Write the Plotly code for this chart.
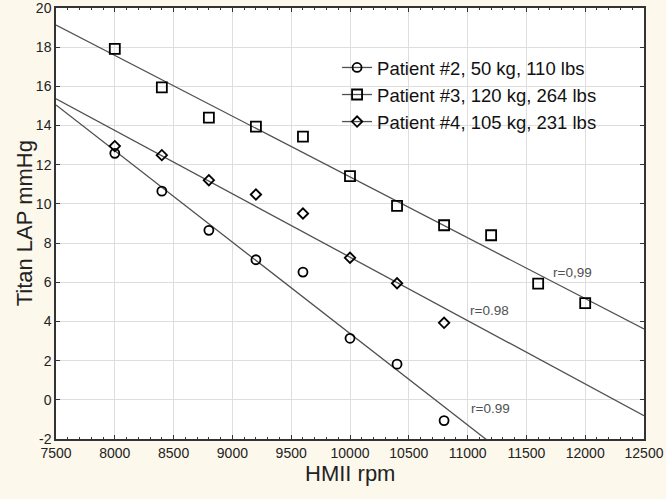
import numpy as np
import plotly.graph_objects as go

# HMII pump speed (rpm) for each patient
rpm_p2 = [8000, 8400, 8800, 9200, 9600, 10000, 10400, 10800]
lap_p2 = [12.58, 10.65, 8.65, 7.15, 6.52, 3.14, 1.82, -1.06]

rpm_p3 = [8000, 8400, 8800, 9200, 9600, 10000, 10400, 10800, 11200, 11600, 12000]
lap_p3 = [17.91, 15.95, 14.4, 13.94, 13.43, 11.42, 9.9, 8.91, 8.4, 5.93, 4.94]

rpm_p4 = [8000, 8400, 8800, 9200, 9600, 10000, 10400, 10800]
lap_p4 = [12.95, 12.49, 11.21, 10.48, 9.51, 7.25, 5.95, 3.93]

names = [
    "Patient #2, 50 kg, 110 lbs",
    "Patient #3, 120 kg, 264 lbs",
    "Patient #4, 105 kg, 231 lbs",
]
r_labels = ["r=0.99", "r=0,99", "r=0.98"]
r_label_x = [11192, 11890, 11189]
r_label_y = [-0.43, 6.49, 4.54]

x_ticks = [7500, 8000, 8500, 9000, 9500, 10000, 10500, 11000, 11500, 12000, 12500]
x_ticktext = [str(v) for v in x_ticks]
y_ticks = [-2, 0, 2, 4, 6, 8, 10, 12, 14, 16, 18, 20]
y_ticktext = ["-2", "0", "2", "4", "6", "8", "10", "12", "14", "16", "18", "20"]

x_fit = np.array([7500, 12500])
line_color = "#505050"
symbols = ["circle-open", "square-open", "diamond-open"]
sizes = [9, 10, 8]

fig = go.Figure()

series = [(rpm_p2, lap_p2), (rpm_p3, lap_p3), (rpm_p4, lap_p4)]
for i, (xs, ys) in enumerate(series):
    # linear fit, drawn across the whole x range
    slope, icpt = np.polyfit(xs, ys, 1)
    fig.add_trace(
        go.Scatter(
            x=x_fit,
            y=slope * x_fit + icpt,
            mode="lines",
            line=dict(color=line_color, width=1.3),
            showlegend=False,
            hoverinfo="skip",
        )
    )
    fig.add_trace(
        go.Scatter(
            x=xs,
            y=ys,
            mode="markers",
            marker=dict(symbol=symbols[i], size=sizes[i], color="black",
                        line=dict(width=1.8, color="black")),
            showlegend=False,
        )
    )
    # legend entry: marker with a line through it
    fig.add_trace(
        go.Scatter(
            x=[None],
            y=[None],
            mode="lines+markers",
            name=names[i],
            line=dict(color=line_color, width=1.3),
            marker=dict(symbol=symbols[i], size=sizes[i], color="black",
                        line=dict(width=1.8, color="black")),
        )
    )

for txt, ax, ay in zip(r_labels, r_label_x, r_label_y):
    fig.add_annotation(x=ax, y=ay, text=txt, showarrow=False,
                       font=dict(size=13.5, color="#505050"))

axis_common = dict(
    showgrid=True,
    gridcolor="#dedede",
    gridwidth=1,
    zeroline=False,
    showline=True,
    linecolor="#333333",
    linewidth=1.5,
    mirror="ticks",
    ticks="inside",
    ticklen=4,
    tickcolor="#333333",
    tickfont=dict(size=14, color="#222222"),
    automargin=False,
    ticklabeloverflow="allow",
)

fig.update_layout(
    width=666,
    height=499,
    paper_bgcolor="#fdf8ec",
    plot_bgcolor="white",
    margin=dict(l=56, r=22, t=8, b=60),
    font=dict(family="Liberation Sans, Arial, sans-serif", color="#222222"),
    xaxis=dict(
        axis_common,
        range=[7500, 12500],
        tickvals=x_ticks,
        ticktext=x_ticktext,
        minor=dict(dtick=100, ticks="inside", ticklen=2, tickcolor="#333333", showgrid=False),
    ),
    yaxis=dict(
        axis_common,
        range=[-2, 20],
        tickvals=y_ticks,
        ticktext=y_ticktext,
    ),
    legend=dict(
        x=0.478,
        y=0.905,
        xanchor="left",
        yanchor="top",
        bgcolor="rgba(255,255,255,0)",
        font=dict(size=18.5, color="#111111"),
        itemwidth=30,
    ),
)

# axis titles placed as paper annotations so their position is exact
fig.add_annotation(text="HMII rpm", xref="paper", yref="paper", x=0.5, y=-0.08,
                   xanchor="center", yanchor="middle", showarrow=False,
                   font=dict(size=22, color="#222222"))
fig.add_annotation(text="Titan LAP mmHg", xref="paper", yref="paper", x=-0.053, y=0.5,
                   xanchor="center", yanchor="middle", textangle=-90, showarrow=False,
                   font=dict(size=22, color="#222222"))

# drop the default body margin so the figure sits flush in the window
fig.write_html("out.html", config={"displayModeBar": False},
               post_script="document.body.style.margin='0';")
